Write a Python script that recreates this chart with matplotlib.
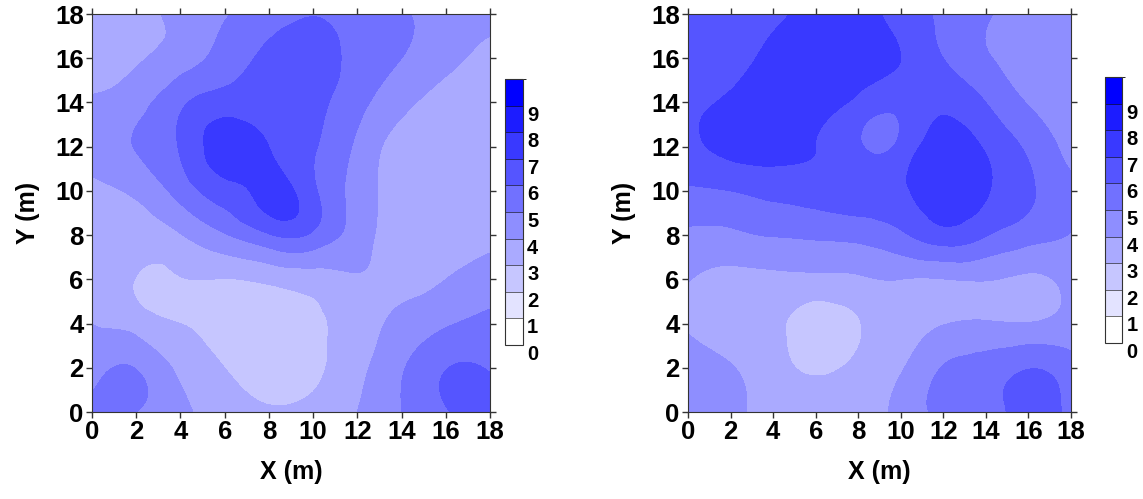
import numpy as np
import matplotlib
matplotlib.use("Agg")
import matplotlib.pyplot as plt
import matplotlib.tri as mtri
from matplotlib.colors import ListedColormap, BoundaryNorm

plt.rcParams['font.family'] = ['Liberation Sans', 'DejaVu Sans']
plt.rcParams['font.weight'] = 'bold'

# sampling grid (m)
grid_x = [0, 2, 4, 6, 8, 10, 12, 14, 16, 18]
grid_y = [0, 2, 4, 6, 8, 10, 12, 14, 16, 18]

# left survey, rows from y=0 up to y=18
left_z = [
    [5.3, 5.0, 4.2, 3.5, 3.1, 3.3, 4.0, 5.0, 5.9, 6.4],
    [4.4, 4.95, 3.8, 3.0, 2.6, 2.8, 3.7, 4.9, 5.95, 5.9],
    [4.0, 3.6, 3.0, 2.5, 2.4, 2.8, 3.5, 4.3, 4.9, 5.2],
    [3.3, 2.97, 2.95, 2.97, 3.2, 3.5, 3.9, 3.7, 4.0, 4.5],
    [3.4, 3.5, 3.95, 4.9, 5.9, 5.8, 4.5, 3.5, 3.4, 3.7],
    [3.8, 4.2, 5.4, 6.6, 7.3, 6.2, 4.6, 3.5, 3.4, 3.5],
    [4.3, 5.05, 6.1, 7.5, 7.0, 6.1, 4.8, 3.6, 3.5, 3.6],
    [4.1, 4.6, 5.8, 6.5, 6.6, 6.3, 5.3, 4.3, 3.6, 3.5],
    [3.6, 3.9, 4.5, 5.4, 6.3, 6.6, 5.6, 5.0, 4.3, 3.7],
    [3.4, 3.7, 4.3, 4.95, 5.4, 5.95, 5.5, 5.1, 4.5, 4.3],
]
# extra samples between grid nodes
left_extra_x = [1.5, 16.8, 2.5, 4.0, 8.8]
left_extra_y = [1.2, 1.1, 5.7, 5.0, 9.2]
left_extra_z = [5.5, 6.4, 2.75, 2.7, 7.3]

# right survey, rows from y=0 up to y=18
right_z = [
    [4.5, 4.2, 3.6, 3.3, 3.5, 4.3, 5.2, 5.5, 6.5, 5.6],
    [4.4, 4.05, 3.4, 2.85, 3.2, 3.9, 5.05, 5.4, 5.95, 5.4],
    [3.9, 3.6, 3.3, 2.5, 2.95, 3.4, 3.95, 4.1, 4.05, 4.3],
    [4.05, 3.7, 3.75, 3.75, 3.85, 4.0, 3.98, 4.05, 3.8, 4.4],
    [4.8, 4.8, 5.05, 5.15, 5.3, 5.8, 6.6, 6.05, 5.4, 4.95],
    [5.85, 6.0, 6.3, 6.5, 6.6, 6.85, 7.5, 7.1, 6.15, 5.3],
    [6.7, 7.3, 7.4, 7.0, 6.2, 6.3, 7.4, 6.9, 5.8, 4.6],
    [6.7, 7.2, 7.6, 7.3, 6.8, 6.4, 6.8, 6.0, 4.95, 4.6],
    [6.3, 6.6, 7.3, 7.6, 7.3, 7.0, 6.0, 5.1, 4.6, 4.4],
    [6.3, 6.5, 6.7, 7.5, 7.4, 6.6, 5.8, 5.1, 4.5, 4.4],
]
right_extra_x = [9.0, 12.3, 16.2]
right_extra_y = [12.5, 10.8, 1.0]
right_extra_z = [5.6, 7.6, 6.4]

levels = list(range(11))
cbar_labels = [str(v) for v in range(10)]

# white -> pure blue in ten steps
shades = [(1 - i / 9, 1 - i / 9, 1.0) for i in range(10)]
cmap = ListedColormap(shades)
norm = BoundaryNorm(levels, cmap.N)


def draw_panel(fig, rect, cbar_rect, z, ex, ey, ez):
    gx, gy = np.meshgrid(grid_x, grid_y)
    px = np.concatenate([gx.ravel(), ex])
    py = np.concatenate([gy.ravel(), ey])
    pz = np.concatenate([np.array(z).ravel(), ez])
    tri = mtri.Triangulation(px, py)
    refiner = mtri.UniformTriRefiner(tri)
    tri_f, z_f = refiner.refine_field(pz, subdiv=4)

    ax = fig.add_axes(rect)
    cs = ax.tricontourf(tri_f, z_f, levels=levels, cmap=cmap, norm=norm)
    ax.set_xlim(0, 18)
    ax.set_ylim(0, 18)
    ax.set_xticks(grid_x)
    ax.set_yticks(grid_y)
    ax.tick_params(direction='out', length=4, width=1, labelsize=18.5, pad=2,
                   top=True, right=True, color='#333333')
    for sp in ax.spines.values():
        sp.set_color('#333333')
    ax.set_xlabel('X (m)', fontsize=18, fontweight='bold', labelpad=11)
    ax.set_ylabel('Y (m)', fontsize=18, fontweight='bold', labelpad=11)

    cax = fig.add_axes(cbar_rect)
    cb = fig.colorbar(cs, cax=cax, drawedges=True)
    cb.outline.set_edgecolor('#333333')
    cb.dividers.set_color('black')
    cb.set_ticks(levels[:-1])
    cb.set_ticklabels(cbar_labels)
    cax.tick_params(length=0, labelsize=14.5, pad=3)
    for lab in cax.get_yticklabels():
        lab.set_verticalalignment('top')
    return ax


fig = plt.figure(figsize=(11.43, 4.99), dpi=100)
draw_panel(fig, [0.0805, 0.1743, 0.3482, 0.7976], [0.4418, 0.3086, 0.0158, 0.533],
           left_z, left_extra_x, left_extra_y, left_extra_z)
draw_panel(fig, [0.6019, 0.1743, 0.3351, 0.7976], [0.9668, 0.3126, 0.0150, 0.533],
           right_z, right_extra_x, right_extra_y, right_extra_z)

fig.savefig('out.png', dpi=100)
